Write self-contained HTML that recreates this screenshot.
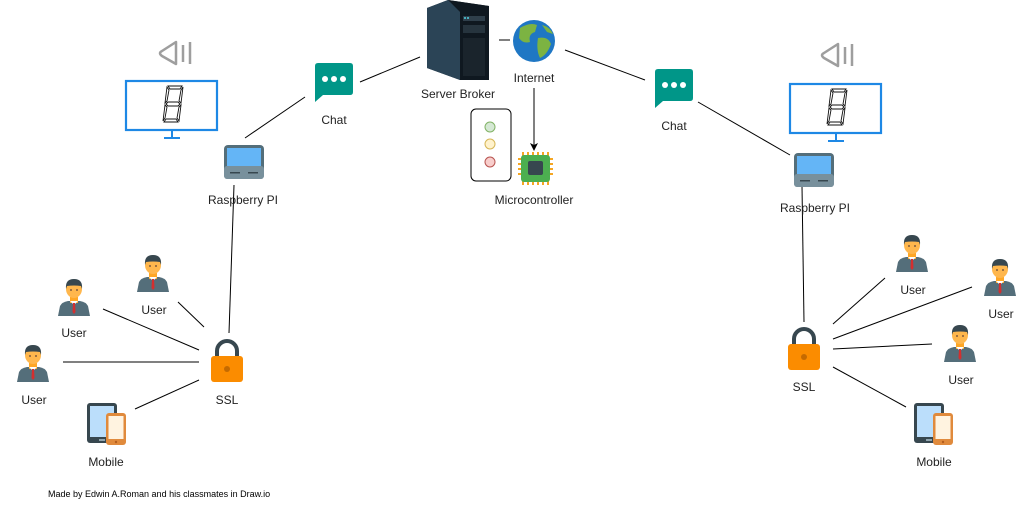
<!DOCTYPE html>
<html><head><meta charset="utf-8"><style>
html,body{margin:0;padding:0;background:#fff;}
svg{display:block;font-family:"Liberation Sans",Arial,sans-serif;}
</style></head><body>
<svg width="1026" height="509" viewBox="0 0 1026 509" xmlns="http://www.w3.org/2000/svg">
<defs>
<g id="user">
  <path d="M0 40 L2 30 Q4 26 10 25 L22 25 Q28 26 30 30 L32 40 Z" fill="#546E7A"/>
  <rect x="12" y="21" width="8" height="6" fill="#FFA726"/>
  <path d="M12 25 L16 29 L20 25 Z" fill="#fff"/>
  <path d="M15 27 L17 27 L17.5 36 L16 38 L14.5 36 Z" fill="#D32F2F"/>
  <ellipse cx="16" cy="13" rx="8" ry="9" fill="#FFB74D"/>
  <path d="M8 13 Q7 3 16 3 Q25 3 24 13 L23 10 Q16 9 9 10 Z" fill="#37474F"/>
  <circle cx="13" cy="14" r="0.9" fill="#5D4037"/><circle cx="19" cy="14" r="0.9" fill="#5D4037"/>
</g>
<g id="lock">
  <path d="M6 14 V9 A10 10 0 0 1 26 9 V14" fill="none" stroke="#37474F" stroke-width="4"/>
  <rect x="0" y="14" width="32" height="26" rx="3" fill="#FB8C00"/>
  <circle cx="16" cy="27" r="3" fill="#C56A00"/>
</g>
<g id="mobile">
  <rect x="0" y="0" width="30" height="40" rx="3" fill="#37474F"/>
  <rect x="3" y="3" width="24" height="31" fill="#BBDEFB"/>
  <rect x="12" y="36" width="6" height="2" fill="#90A4AE"/>
  <rect x="19" y="10" width="20" height="32" rx="3" fill="#E08A3C"/>
  <rect x="21.5" y="13" width="15" height="23" fill="#FFF3E0"/>
  <circle cx="29" cy="39" r="1.2" fill="#B35E1E"/>
</g>
<g id="laptop">
  <rect x="0" y="0" width="40" height="34" rx="4" fill="#546E7A"/>
  <rect x="3" y="3" width="34" height="18" fill="#64B5F6"/>
  <rect x="0" y="21" width="40" height="13" rx="3" fill="#78909C"/>
  <rect x="6" y="27" width="10" height="1.5" fill="#37474F"/>
  <rect x="24" y="27" width="10" height="1.5" fill="#37474F"/>
</g>
<g id="chat">
  <path d="M3 0 H35 Q38 0 38 3 V29 Q38 32 35 32 H8 L0 39 V3 Q0 0 3 0 Z" fill="#009688"/>
  <circle cx="10" cy="16" r="3" fill="#fff"/><circle cx="19" cy="16" r="3" fill="#fff"/><circle cx="28" cy="16" r="3" fill="#fff"/>
</g>
<g id="monitor">
  <rect x="1" y="1" width="91" height="49" fill="#fff" stroke="#1E88E5" stroke-width="2.2"/>
  <line x1="47" y1="50" x2="47" y2="58" stroke="#1E88E5" stroke-width="2"/>
  <line x1="39" y1="58" x2="55" y2="58" stroke="#1E88E5" stroke-width="2"/>
  <g fill="none" stroke="#111" stroke-width="0.9">
    <path d="M43 6 L57 6 L55 9 L45 9 Z"/>
    <path d="M42 7 L44 10 L42 21 L40 23 Z"/>
    <path d="M58 7 L56 10 L54 21 L56 23 Z"/>
    <path d="M41 24 L43 22 L53 22 L55 24 L53 26 L43 26 Z"/>
    <path d="M40 25 L42 27 L40 38 L38 41 Z"/>
    <path d="M56 25 L54 27 L52 38 L54 41 Z"/>
    <path d="M39 42 L41 39 L51 39 L53 42 Z"/>
  </g>
</g>
<g id="speaker">
  <path d="M18 2 L4 11 Q0 13 4 16 L18 24 Z" fill="none" stroke="#9E9E9E" stroke-width="2.5" stroke-linejoin="round"/>
  <line x1="25" y1="5" x2="25" y2="22" stroke="#9E9E9E" stroke-width="2.5"/>
  <line x1="32" y1="2" x2="32" y2="24" stroke="#9E9E9E" stroke-width="2.5"/>
</g>
</defs>

<g stroke="#000" stroke-width="1" fill="none">
  <line x1="360" y1="82" x2="420" y2="57"/>
  <line x1="245" y1="138" x2="305" y2="97"/>
  <line x1="499" y1="40" x2="510" y2="40"/>
  <line x1="565" y1="50" x2="645" y2="80"/>
  <line x1="698" y1="102" x2="790" y2="155"/>
  <line x1="234" y1="185" x2="229" y2="333"/>
  <line x1="802" y1="186" x2="804" y2="322"/>
  <line x1="534" y1="88" x2="534" y2="145"/>
  <line x1="178" y1="302" x2="204" y2="327"/>
  <line x1="103" y1="309" x2="199" y2="350"/>
  <line x1="63" y1="362" x2="199" y2="362"/>
  <line x1="135" y1="409" x2="199" y2="380"/>
  <line x1="833" y1="324" x2="885" y2="278"/>
  <line x1="833" y1="339" x2="972" y2="287"/>
  <line x1="833" y1="349" x2="932" y2="344"/>
  <line x1="833" y1="367" x2="906" y2="407"/>
</g>
<path d="M530 143 L534 151 L538 143 L534 145 Z" fill="#000"/>

<use href="#speaker" x="158" y="40"/>
<use href="#monitor" x="125" y="80"/>
<use href="#laptop" x="224" y="145"/>
<use href="#chat" x="315" y="63"/>
<use href="#speaker" x="820" y="42"/>
<use href="#monitor" x="789" y="83"/>
<use href="#laptop" x="794" y="153"/>
<use href="#chat" x="655" y="69"/>

<path d="M427 8 L448 0 L489 6 L489 80 L460 80 L427 68 Z" fill="#1c2a36"/>
<path d="M448 0 L489 6 L489 80 L460 80 L460 12 Z" fill="#0f1820"/>
<path d="M427 8 L448 0 L460 12 L460 80 L427 68 Z" fill="#2b4456"/>
<rect x="463" y="16" width="22" height="5" fill="#2f3f4b"/>
<rect x="463" y="25" width="22" height="8" fill="#26343e"/>
<rect x="463" y="38" width="22" height="38" fill="#1a242c"/>
<circle cx="465" cy="18" r="1" fill="#4dd0e1"/><circle cx="468" cy="18" r="1" fill="#4dd0e1"/>

<circle cx="534" cy="41" r="21" fill="#1f77c4"/>
<path d="M520 28 Q530 22 537 25 L535 32 Q528 34 530 42 Q523 44 519 38 Z" fill="#7cb342"/>
<path d="M538 38 Q548 36 551 44 Q547 55 540 58 Q536 50 538 38 Z" fill="#7cb342"/>
<path d="M542 25 Q550 27 553 34 L547 32 Z" fill="#7cb342"/>

<rect x="471" y="109" width="40" height="72" rx="5" fill="#fff" stroke="#000" stroke-width="1"/>
<circle cx="490" cy="127" r="5" fill="#d5e8d4" stroke="#82b366"/>
<circle cx="490" cy="144" r="5" fill="#fff2cc" stroke="#d6b656"/>
<circle cx="490" cy="162" r="5" fill="#f8cecc" stroke="#b85450"/>

<g fill="#F5A623">
  <rect x="522" y="152" width="2" height="5"/><rect x="527" y="152" width="2" height="5"/><rect x="532" y="152" width="2" height="5"/><rect x="537" y="152" width="2" height="5"/><rect x="542" y="152" width="2" height="5"/><rect x="547" y="152" width="2" height="5"/>
  <rect x="522" y="180" width="2" height="5"/><rect x="527" y="180" width="2" height="5"/><rect x="532" y="180" width="2" height="5"/><rect x="537" y="180" width="2" height="5"/><rect x="542" y="180" width="2" height="5"/><rect x="547" y="180" width="2" height="5"/>
  <rect x="518" y="158" width="5" height="2"/><rect x="518" y="163" width="5" height="2"/><rect x="518" y="168" width="5" height="2"/><rect x="518" y="173" width="5" height="2"/>
  <rect x="548" y="158" width="5" height="2"/><rect x="548" y="163" width="5" height="2"/><rect x="548" y="168" width="5" height="2"/><rect x="548" y="173" width="5" height="2"/>
</g>
<rect x="521" y="155" width="29" height="27" rx="3" fill="#4CAF50"/>
<rect x="528" y="161" width="15" height="14" rx="2" fill="#37474F"/>

<use href="#lock" x="211" y="342"/>
<use href="#lock" x="788" y="330"/>
<use href="#user" x="137" y="252"/>
<use href="#user" x="58" y="276"/>
<use href="#user" x="17" y="342"/>
<use href="#user" x="896" y="232"/>
<use href="#user" x="984" y="256"/>
<use href="#user" x="944" y="322"/>
<use href="#mobile" x="87" y="403"/>
<use href="#mobile" x="914" y="403"/>

<g font-size="12" fill="#222" text-anchor="middle">
  <text x="243" y="204">Raspberry PI</text>
  <text x="334" y="124">Chat</text>
  <text x="458" y="98">Server Broker</text>
  <text x="534" y="82">Internet</text>
  <text x="534" y="204">Microcontroller</text>
  <text x="674" y="130">Chat</text>
  <text x="815" y="212">Raspberry PI</text>
  <text x="227" y="404">SSL</text>
  <text x="804" y="391">SSL</text>
  <text x="154" y="314">User</text>
  <text x="74" y="337">User</text>
  <text x="34" y="404">User</text>
  <text x="913" y="294">User</text>
  <text x="1001" y="318">User</text>
  <text x="961" y="384">User</text>
  <text x="106" y="466">Mobile</text>
  <text x="934" y="466">Mobile</text>
</g>
<text x="48" y="497" font-size="9" fill="#000">Made by Edwin A.Roman and his classmates in Draw.io</text>
</svg>
</body></html>
